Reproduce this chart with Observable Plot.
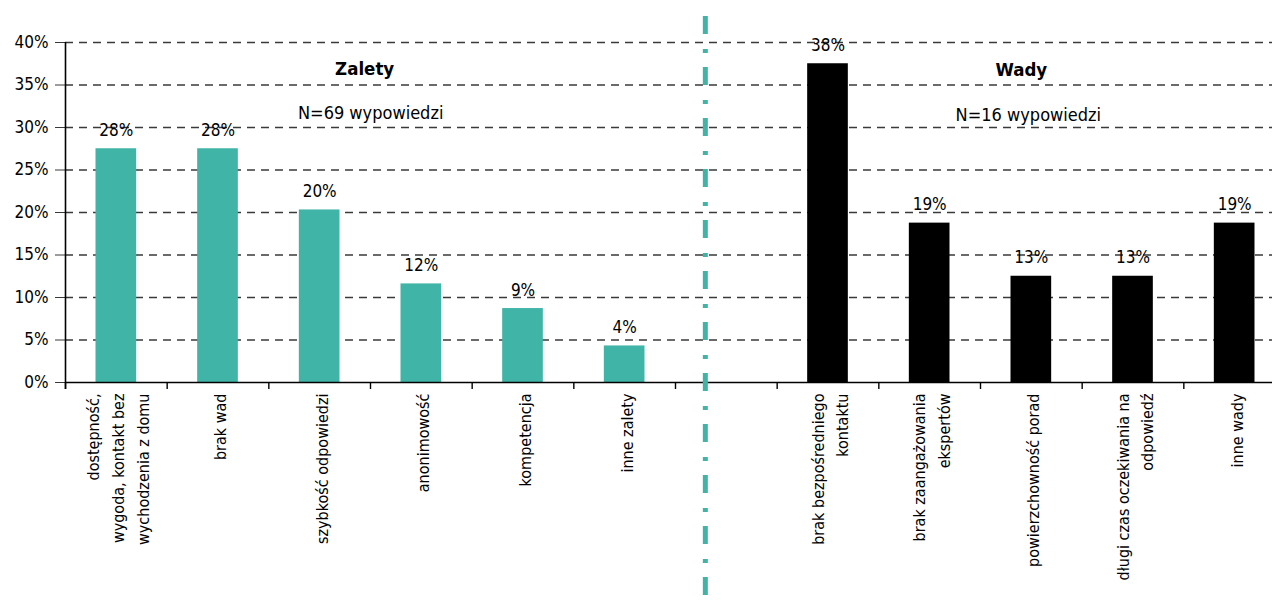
<!DOCTYPE html>
<html>
<head>
<meta charset="utf-8">
<script src="https://cdn.jsdelivr.net/npm/d3@7"></script>
<script src="https://cdn.jsdelivr.net/npm/@observablehq/plot@0.6"></script>
<style>
  html, body { margin: 0; padding: 0; background: #fff; }
  #chart svg { display: block; }
</style>
</head>
<body>
<div id="chart"></div>
<script>
// ---- data ----
const prosCategories = [
  "dostępność,\nwygoda, kontakt bez\nwychodzenia z domu",
  "brak wad",
  "szybkość odpowiedzi",
  "anonimowość",
  "kompetencja",
  "inne zalety"
];
const prosValues = [27.5, 27.5, 20.3, 11.6, 8.7, 4.3];
const prosLabels = ["28%", "28%", "20%", "12%", "9%", "4%"];

const consCategories = [
  "brak bezpośredniego\nkontaktu",
  "brak zaangażowania\nekspertów",
  "powierzchowność porad",
  "długi czas oczekiwania na\nodpowiedź",
  "inne wady"
];
const consValues = [37.5, 18.75, 12.5, 12.5, 18.75];
const consLabels = ["38%", "19%", "13%", "13%", "19%"];

const gapKey = " ";
const yTicks = [0, 5, 10, 15, 20, 25, 30, 35, 40];
const prosTitle = "Zalety";
const prosN = "N=69 wypowiedzi";
const consTitle = "Wady";
const consN = "N=16 wypowiedzi";

// ---- build ----
const domain = [...prosCategories, gapKey, ...consCategories];
const prosRows = prosCategories.map((c, i) => ({cat: c, value: prosValues[i], label: prosLabels[i]}));
const consRows = consCategories.map((c, i) => ({cat: c, value: consValues[i], label: consLabels[i]}));
const allRows = [...prosRows, ...consRows];

const W = 1278, H = 609;
const xRange = [65, 1285];
const step = (xRange[1] - xRange[0]) / domain.length;
const teal = "#41B4A8";
const font = "'DejaVu Sans Condensed', 'DejaVu Sans', sans-serif";

const chart = Plot.plot({
  width: W,
  height: H,
  marginLeft: 65,
  marginRight: 6,
  marginTop: 42,
  marginBottom: 227,
  style: {fontFamily: font, fontStretch: "condensed", fontSize: "17px", color: "#000", background: "#fff"},
  x: {domain, range: xRange, paddingInner: 0.6, paddingOuter: 0.3, round: false, axis: null},
  y: {domain: [0, 40]},
  marks: [
    Plot.ruleY(yTicks.filter(d => d > 0), {stroke: "#3a3a3a", strokeWidth: 1.4, strokeDasharray: "8,6"}),
    Plot.axisY({ticks: yTicks, tickFormat: d => d + "%", tickSize: 10, tickPadding: 7, stroke: "#3a3a3a", fontSize: 17, label: null}),
    Plot.barY(prosRows, {x: "cat", y: "value", fill: teal}),
    Plot.barY(consRows, {x: "cat", y: "value", fill: "#000"}),
    Plot.ruleY([0], {stroke: "#000", strokeWidth: 1.6}),
    // y axis line
    Plot.ruleX([domain[0]], {dx: -step / 2, stroke: "#000", strokeWidth: 1.6, insetBottom: -7}),
    // x tick marks at slot boundaries
    Plot.ruleX(domain, {x: d => d, dx: -step / 2, stroke: "#000", strokeWidth: 1.4, insetTop: 340, insetBottom: -7}),
    // separator
    Plot.ruleX([gapKey], {x: d => d, dx: -21, stroke: teal, strokeWidth: 5, strokeDasharray: "18,15,4,14", insetTop: -26, insetBottom: -227}),
    // value labels
    Plot.text(allRows, {x: "cat", y: "value", text: "label", dy: -13, lineAnchor: "bottom", fontSize: 17, fill: "#000"}),
    // category labels
    Plot.text(domain.filter(d => d !== gapKey), {x: d => d, text: d => d, frameAnchor: "bottom", dy: 11, rotate: -90, textAnchor: "end", lineAnchor: "middle", fontSize: 16, lineHeight: 1.55, fill: "#000"}),
    // section titles
    Plot.text([prosTitle], {x: () => prosCategories[2], text: d => d, frameAnchor: "top", dx: 45, dy: 19, fontWeight: "bold", fontSize: 18.5, fill: "#000"}),
    Plot.text([prosN], {x: () => prosCategories[2], text: d => d, frameAnchor: "top", dx: 51, dy: 64, fontSize: 18, fill: "#000"}),
    Plot.text([consTitle], {x: () => consCategories[2], text: d => d, frameAnchor: "top", dx: -10, dy: 20, fontWeight: "bold", fontSize: 18.5, fill: "#000"}),
    Plot.text([consN], {x: () => consCategories[2], text: d => d, frameAnchor: "top", dx: -3, dy: 66, fontSize: 18, fill: "#000"})
  ]
});
document.getElementById("chart").appendChild(chart);
</script>
</body>
</html>
